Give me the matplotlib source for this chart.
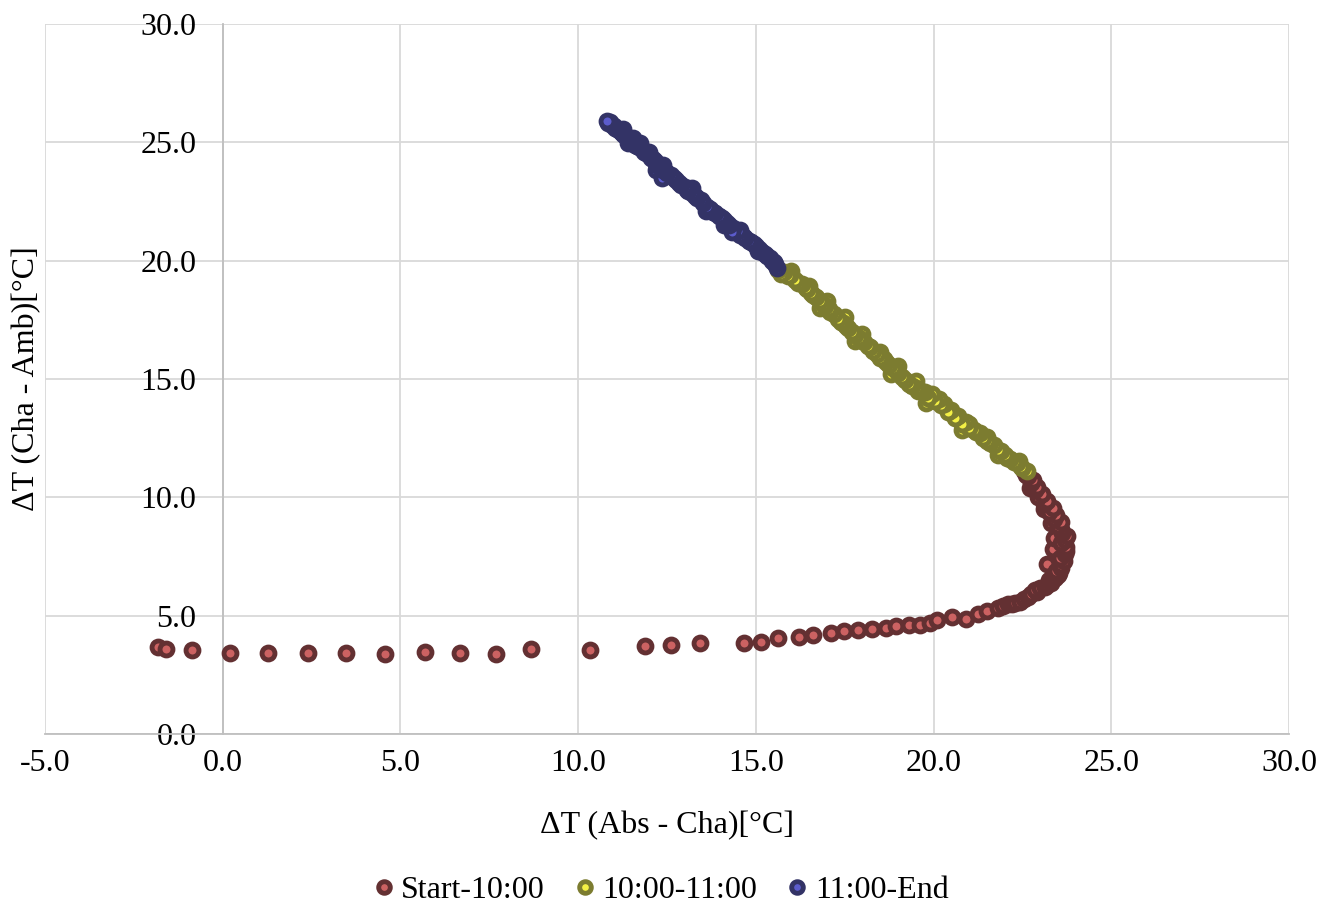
import matplotlib
matplotlib.use("Agg")
import matplotlib.pyplot as plt

plt.rcParams['font.family'] = ['Liberation Serif', 'DejaVu Serif']

# Start-10:00
start_x = [23.2, 23.35, 23.4, 23.3, 23.1, 22.7,
           -1.82, -1.6, -0.86, 0.21, 1.27, 2.4, 3.47, 4.57, 5.68, 6.69, 7.7, 8.66,
           10.34, 11.89, 12.61, 13.43, 14.67, 15.15, 15.63, 16.22, 16.62, 17.12,
           17.48, 17.87, 18.27, 18.65, 18.94, 19.32, 19.62, 19.9, 20.11, 20.51,
           20.91, 21.26, 21.5, 21.82, 21.95, 22.1, 22.2, 22.3, 22.43, 22.55, 22.67,
           22.75, 22.9, 22.85, 23.0, 23.14, 23.2, 23.3, 23.25, 23.35, 23.42, 23.5,
           23.52, 23.45, 23.6, 23.6, 23.66, 23.55, 23.7, 23.72, 23.72, 23.6, 23.7,
           23.75, 23.62, 23.58, 23.5, 23.6, 23.38, 23.45, 23.25, 23.35, 23.1, 23.2,
           22.95, 23.05, 22.85, 22.9, 22.75, 22.8, 22.65, 22.6, 22.55]
start_y = [7.2, 7.8, 8.3, 8.9, 9.5, 10.4,
           3.68, 3.59, 3.53, 3.42, 3.41, 3.41, 3.42, 3.38, 3.46, 3.42, 3.38, 3.59,
           3.55, 3.73, 3.77, 3.84, 3.84, 3.88, 4.04, 4.08, 4.18, 4.27,
           4.34, 4.39, 4.43, 4.46, 4.57, 4.6, 4.6, 4.67, 4.82, 4.93,
           4.86, 5.06, 5.2, 5.34, 5.4, 5.49, 5.5, 5.55, 5.59, 5.7, 5.8,
           5.9, 6.01, 6.1, 6.15, 6.22, 6.3, 6.4, 6.5, 6.55, 6.6, 6.7,
           6.8, 6.9, 7.0, 7.15, 7.3, 7.45, 7.6, 7.75, 7.9, 8.05, 8.2,
           8.35, 8.5, 8.65, 8.8, 8.95, 9.1, 9.25, 9.4, 9.55, 9.7, 9.85,
           10.0, 10.15, 10.3, 10.45, 10.6, 10.75, 10.9, 10.95, 11.1]

# 10:00-11:00
mid_x = [22.4, 21.8, 21.5, 21.0, 20.8, 20.5, 19.8, 19.5, 19.0, 18.8, 18.5, 18.0,
         17.8, 17.5, 17.0, 16.8, 16.5, 16.0,
         22.62, 22.5, 22.45, 22.35, 22.25, 22.15, 22.06, 22.0, 21.9, 21.8, 21.7,
         21.6, 21.5, 21.4, 21.3, 21.2, 21.15, 21.0, 20.9, 20.8, 20.7, 20.6, 20.5,
         20.4, 20.3, 20.2, 20.15, 20.05, 19.95, 19.85, 19.75, 19.65, 19.57, 19.5,
         19.4, 19.3, 19.2, 19.1, 19.0, 18.95, 18.85, 18.75, 18.65, 18.6, 18.5,
         18.4, 18.3, 18.2, 18.15, 18.05, 17.95, 17.9, 17.8, 17.7, 17.6, 17.55,
         17.45, 17.4, 17.3, 17.2, 17.1, 17.05, 16.95, 16.9, 16.8, 16.7, 16.62,
         16.55, 16.45, 16.4, 16.3, 16.2, 16.1, 15.96, 15.9, 15.8, 15.7, 15.62]
mid_y = [11.55, 11.8, 12.55, 13.1, 12.85, 13.55, 14.0, 14.9, 15.55, 15.2, 16.15, 16.9,
         16.6, 17.6, 18.3, 18.0, 18.95, 19.55,
         11.12, 11.25, 11.3, 11.45, 11.5, 11.6, 11.65, 11.8, 11.95, 12.0, 12.2,
         12.3, 12.4, 12.5, 12.7, 12.75, 12.85, 12.95, 13.2, 13.1, 13.45, 13.35, 13.7,
         13.6, 13.95, 13.9, 14.15, 14.05, 14.35, 14.2, 14.45, 14.5, 14.5, 14.6,
         14.7, 14.8, 14.95, 15.1, 15.25, 15.4, 15.45, 15.6, 15.7, 15.85, 15.9,
         16.05, 16.2, 16.35, 16.4, 16.55, 16.65, 16.75, 16.85, 17.0, 17.15, 17.25,
         17.35, 17.4, 17.55, 17.75, 17.85, 17.95, 18.1, 18.15, 18.3, 18.45, 18.55,
         18.65, 18.8, 18.85, 19.0, 19.05, 19.2, 19.4, 19.35, 19.5, 19.45, 19.62]

# 11:00-End
end_x = [15.05, 14.55, 14.1, 13.6, 13.2, 12.4, 12.2, 12.0, 11.75, 11.55, 11.4, 11.25,
         15.6, 15.55, 15.5, 15.45, 15.4, 15.3, 15.25, 15.17, 15.1, 15.0, 14.95,
         14.85, 14.8, 14.7, 14.65, 14.55, 14.5, 14.35, 14.32, 14.25, 14.2, 14.1,
         14.05, 13.95, 13.85, 13.8, 13.7, 13.62, 13.5, 13.45, 13.35, 13.3, 13.2,
         13.1, 13.05, 13.0, 12.9, 12.85, 12.75, 12.7, 12.6, 12.35, 12.5, 12.45,
         12.4, 12.3, 12.25, 12.2, 12.15, 12.1, 12.05, 11.98, 11.9, 11.85, 11.8,
         11.7, 11.65, 11.6, 11.55, 11.5, 11.45, 11.4, 11.35, 11.3, 11.25, 11.2,
         11.15, 11.1, 11.05, 11.0, 10.95, 10.9, 10.85, 10.8]
end_y = [20.4, 21.3, 21.5, 22.1, 23.05, 24.05, 23.85, 24.6, 24.95, 25.2, 24.95, 25.55,
         19.7, 19.85, 19.95, 20.0, 20.1, 20.2, 20.3, 20.38, 20.5, 20.6, 20.7,
         20.8, 20.85, 20.95, 21.05, 21.1, 21.25, 21.4, 21.22, 21.5, 21.6, 21.7,
         21.8, 21.9, 22.0, 22.05, 22.2, 22.28, 22.45, 22.55, 22.65, 22.75, 22.85,
         22.95, 23.0, 23.1, 23.2, 23.3, 23.4, 23.5, 23.6, 23.5, 23.7, 23.8,
         23.85, 23.95, 24.05, 24.1, 24.2, 24.3, 24.35, 24.46, 24.55, 24.6, 24.7,
         24.8, 24.85, 24.9, 25.0, 25.05, 25.1, 25.15, 25.25, 25.3, 25.35, 25.45,
         25.5, 25.55, 25.6, 25.7, 25.75, 25.85, 25.8, 25.92]

ticks_x = [-5, 0, 5, 10, 15, 20, 25, 30]
ticks_y = [0, 5, 10, 15, 20, 25, 30]

fig = plt.figure(figsize=(13.28, 9.08), dpi=100)
ax = fig.add_axes([0.0339, 0.1916, 0.9367, 0.782])

ms = 9.3
mew = 3.5
ax.plot(start_x, start_y, 'o', ms=ms, mew=mew, mfc='#cc6262', mec='#633032',
        label='Start-10:00', zorder=3)
ax.plot(mid_x, mid_y, 'o', ms=ms, mew=mew, mfc='#f4f045', mec='#7c7c30',
        label='10:00-11:00', zorder=4)
ax.plot(end_x, end_y, 'o', ms=ms, mew=mew, mfc='#5c5ccc', mec='#333366',
        label='11:00-End', zorder=5)

ax.set_xlim(-5, 30)
ax.set_ylim(0, 30)
ax.set_xticks(ticks_x)
ax.set_yticks(ticks_y)
ax.set_xticklabels(['%.1f' % v for v in ticks_x])
ax.set_yticklabels(['%.1f' % v for v in ticks_y])
ax.grid(True, color='#d9d9d9', lw=1.3, zorder=0)
ax.set_axisbelow(True)

for s in ['top', 'right']:
    ax.spines[s].set_visible(False)
ax.spines['left'].set_position(('data', 0))
ax.spines['left'].set_color('#bfbfbf')
ax.spines['left'].set_linewidth(1.3)
ax.spines['bottom'].set_color('#bfbfbf')
ax.spines['bottom'].set_linewidth(1.3)
ax.tick_params(length=0, labelsize=23, pad=11)
ax.tick_params(axis='y', pad=19)

fig.text(0.5025, 0.091, 'ΔT (Abs - Cha)[°C]', ha='center', va='center', fontsize=23)
fig.text(0.02, 0.5826, 'ΔT (Cha - Amb)[°C]', ha='center', va='center',
         rotation=90, fontsize=23)

fig.legend(loc='center', bbox_to_anchor=(0.495, 0.019), ncol=3, frameon=False,
           fontsize=23, handletextpad=0.0, columnspacing=0.7, handlelength=1.1,
           markerscale=0.9)

fig.savefig('out.png', dpi=100)
